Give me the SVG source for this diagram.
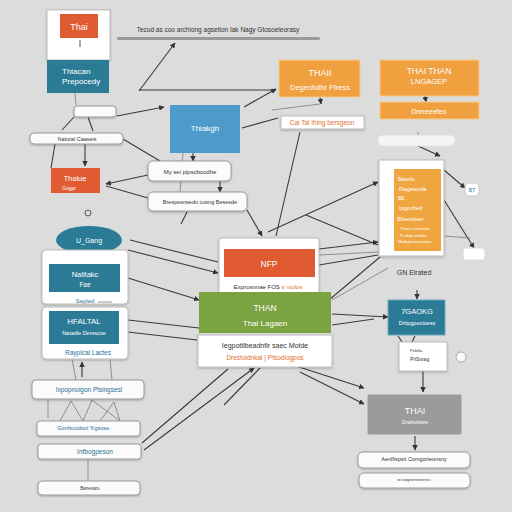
<svg xmlns="http://www.w3.org/2000/svg" width="512" height="512" viewBox="0 0 512 512">
<defs>
<marker id="ah" viewBox="0 0 10 10" refX="9" refY="5" markerWidth="5" markerHeight="5" orient="auto"><path d="M0,0 L10,5 L0,10 z" fill="#333"/></marker>
<filter id="sh" x="-10%" y="-10%" width="120%" height="130%"><feDropShadow dx="0" dy="1" stdDeviation="1" flood-color="#000" flood-opacity="0.25"/></filter>
</defs>
<style>
text{font-family:"Liberation Sans",Arial,sans-serif;}
.w{fill:#ffffff;stroke:#bdbdbd;stroke-width:1;filter:url(#sh);}
.pill{fill:#fbfbfb;stroke:#9a9a9a;stroke-width:1;filter:url(#sh);}
.lt{fill:#ffffff;text-anchor:middle;}
.dk{fill:#333;text-anchor:middle;}
.bl{fill:#2b6f95;text-anchor:middle;}
.or{fill:#e0702a;text-anchor:middle;}
.c line{stroke:#3a3a3a;stroke-width:1.1;fill:none;}
.c .th{stroke:#7a7a7a;stroke-width:0.8;}
</style>
<rect width="512" height="512" fill="#dcdcdc"/>

<g class="c">
<line x1="139" y1="91" x2="175" y2="43" marker-end="url(#ah)"/>
<line x1="139" y1="90" x2="276" y2="90"/>
<line x1="117" y1="116" x2="164" y2="107" marker-end="url(#ah)"/>
<line x1="244" y1="107" x2="276" y2="89" marker-end="url(#ah)"/>
<line x1="242" y1="128" x2="278" y2="118"/>
<line x1="75" y1="93" x2="76" y2="105" class="th"/>
<line x1="74" y1="117" x2="62" y2="130"/>
<line x1="88" y1="117" x2="93" y2="131"/>
<line x1="123" y1="139" x2="160" y2="161"/>
<line x1="85" y1="144" x2="85" y2="166" marker-end="url(#ah)"/>
<line x1="55" y1="144" x2="51" y2="168"/>
<line x1="148" y1="175" x2="106" y2="184" marker-end="url(#ah)"/>
<line x1="148" y1="198" x2="106" y2="186"/>
<line x1="193" y1="153" x2="193" y2="161" marker-end="url(#ah)"/>
<line x1="220" y1="181" x2="220" y2="192" marker-end="url(#ah)"/>
<line x1="183" y1="153" x2="180" y2="192" class="th"/>
<line x1="247" y1="210" x2="262" y2="236" marker-end="url(#ah)"/>
<line x1="187" y1="212" x2="181" y2="224"/>
<line x1="300" y1="132" x2="276" y2="236"/>
<line x1="268" y1="232" x2="378" y2="182" marker-end="url(#ah)"/>
<line x1="306" y1="215" x2="378" y2="245"/>
<line x1="319" y1="249" x2="378" y2="242" marker-end="url(#ah)"/>
<line x1="319" y1="265" x2="378" y2="255"/>
<line x1="329" y1="300" x2="380" y2="257"/>
<line x1="418" y1="146" x2="440" y2="156" marker-end="url(#ah)"/>
<line x1="418" y1="132" x2="420" y2="146" class="th"/>
<line x1="444" y1="170" x2="465" y2="188" marker-end="url(#ah)"/>
<line x1="444" y1="200" x2="474" y2="248" marker-end="url(#ah)"/>
<line x1="444" y1="236" x2="470" y2="238" class="th"/>
<line x1="425" y1="96" x2="426" y2="102" marker-end="url(#ah)"/>
<line x1="320" y1="97" x2="321" y2="104" marker-end="url(#ah)"/>
<line x1="272" y1="110" x2="320" y2="104" class="th"/>
<line x1="128" y1="250" x2="218" y2="273" marker-end="url(#ah)"/>
<line x1="130" y1="240" x2="218" y2="262"/>
<line x1="128" y1="278" x2="199" y2="300" marker-end="url(#ah)"/>
<line x1="128" y1="320" x2="199" y2="328"/>
<line x1="128" y1="332" x2="197" y2="340"/>
<line x1="319" y1="255" x2="380" y2="252" class="th"/>
<line x1="332" y1="314" x2="388" y2="317" marker-end="url(#ah)"/>
<line x1="332" y1="325" x2="374" y2="319"/>
<line x1="332" y1="300" x2="388" y2="268" class="th"/>
<line x1="417" y1="290" x2="417" y2="299" marker-end="url(#ah)"/>
<line x1="398" y1="336" x2="402" y2="342"/>
<line x1="415" y1="336" x2="412" y2="342"/>
<line x1="423" y1="371" x2="423" y2="392" marker-end="url(#ah)"/>
<line x1="415" y1="436" x2="415" y2="450" marker-end="url(#ah)"/>
<line x1="296" y1="366" x2="364" y2="388" marker-end="url(#ah)"/>
<line x1="300" y1="372" x2="364" y2="404" marker-end="url(#ah)"/>
<line x1="142" y1="443" x2="228" y2="369"/>
<line x1="144" y1="450" x2="254" y2="368" marker-end="url(#ah)"/>
<line x1="260" y1="368" x2="224" y2="405"/>
<line x1="82" y1="377" x2="82" y2="362" marker-end="url(#ah)"/>
<line x1="76" y1="380" x2="72" y2="359" class="th"/>
<line x1="112" y1="380" x2="110" y2="359" class="th"/>
<line x1="71" y1="401" x2="83" y2="421" class="th"/>
<line x1="92" y1="400" x2="83" y2="421" class="th"/>
<line x1="92" y1="400" x2="120" y2="421" class="th"/>
<line x1="114" y1="402" x2="100" y2="421" class="th"/>
<line x1="114" y1="402" x2="120" y2="421" class="th"/>
<line x1="71" y1="401" x2="60" y2="421" class="th"/>
<line x1="48" y1="400" x2="48" y2="418" class="th"/>
<line x1="88" y1="459" x2="88" y2="480" class="th"/>
</g>

<g id="title">
<text x="218" y="32" font-size="6.5" fill="#333" text-anchor="middle">Tecud as coo archiong agsetion Iak Nagy Gtosoeleorasy</text>
<rect x="117" y="37" width="203" height="3" rx="1.5" fill="#9a9a9a"/>
</g>

<g id="n-thai">
<rect x="47" y="10" width="63" height="50" class="w" fill="#f3f0ea"/>
<rect x="60" y="14" width="38" height="24" fill="#e05a32"/>
<text x="79" y="30" font-size="9" class="lt">Thai</text>
<line x1="80" y1="40" x2="80" y2="47" stroke="#555" stroke-width="1"/>
</g>

<g id="n-thiacan">
<rect x="47" y="60" width="62" height="33" fill="#2b7b97"/>
<text x="62" y="74" font-size="8" fill="#fff">Thiacan</text>
<text x="62" y="84" font-size="8" fill="#fff">Prepocedy</text>
</g>

<g id="n-smallpill">
<rect x="74" y="106" width="42" height="11" rx="3" class="pill"/>
</g>

<g id="n-natural">
<rect x="30" y="133" width="93" height="11" rx="4" class="pill"/>
<text x="77" y="141" font-size="5.5" class="dk">Natural Caaseis</text>
</g>

<g id="n-thiakgh">
<rect x="170" y="105" width="70" height="48" fill="#4d9bcb"/>
<text x="205" y="131" font-size="8" class="lt">Thiakgh</text>
</g>

<g id="n-thaii">
<rect x="279" y="60" width="81" height="37" fill="#f0a03f" stroke="#f7c98a" stroke-width="1"/>
<text x="320" y="76" font-size="9" class="lt">THAII</text>
<text x="320" y="90" font-size="7.5" class="lt">Degenfothr Ffress</text>
</g>

<g id="n-thaithan">
<rect x="380" y="60" width="99" height="36" fill="#f0a03f" stroke="#f7c98a" stroke-width="1"/>
<text x="429" y="74" font-size="8.5" class="lt">THAI THAN</text>
<text x="429" y="84" font-size="7.5" class="lt">LNGAGEP</text>
</g>

<g id="n-dreree">
<rect x="380" y="102" width="99" height="17" fill="#f0a03f" stroke="#f7c98a" stroke-width="1"/>
<text x="429" y="114" font-size="7" class="lt">Drereeefen</text>
</g>

<g id="n-cailabel">
<rect x="281" y="116" width="83" height="13" class="w"/>
<text x="322" y="125" font-size="6.5" class="or">Cai Tal Ihing bersgeon</text>
</g>

<g id="n-pill-right">
<rect x="378" y="135" width="77" height="11" rx="5" fill="#f5f5f5" stroke="#e0e0e0"/>
</g>

<g id="n-orthai">
<rect x="148" y="161" width="83" height="20" rx="5" class="pill"/>
<text x="190" y="174" font-size="6" class="dk">My sei pipscbcodhe</text>
</g>

<g id="n-bresp">
<rect x="148" y="192" width="99" height="19" rx="5" class="pill"/>
<text x="200" y="204" font-size="5.5" class="dk">Brespesnsedo cusng Besesde</text>
</g>

<g id="n-thalue">
<rect x="51" y="168" width="49" height="25" fill="#e05a32"/>
<text x="75" y="181" font-size="7.5" class="lt">Thalue</text>
<text x="62" y="190" font-size="5" fill="#fff">Gogpr</text>
</g>

<circle cx="88" cy="213" r="3" fill="none" stroke="#555" stroke-width="1"/>

<g id="n-ugang">
<ellipse cx="89" cy="240" rx="33" ry="14" fill="#2b7b97"/>
<text x="89" y="243" font-size="7" class="lt">U_Gang</text>
</g>

<g id="n-bigcard">
<rect x="42" y="250" width="86" height="54" rx="4" class="w"/>
<rect x="42" y="307" width="86" height="52" rx="4" class="w"/>
<rect x="49" y="264" width="71" height="28" fill="#2b7b97"/>
<text x="85" y="277" font-size="7.5" class="lt">Nalitakc</text>
<text x="85" y="287" font-size="6.5" class="lt">Fae</text>
<text x="85" y="303" font-size="6" class="bl">Sepled</text>
<line x1="98" y1="302" x2="112" y2="302" stroke="#777" stroke-width="0.8"/>
<rect x="49" y="311" width="70" height="33" fill="#2b7b97"/>
<text x="84" y="324" font-size="8" class="lt">HFALTAL</text>
<text x="84" y="335" font-size="5.5" class="lt">Natadle Dersscoe</text>
<text x="88" y="355" font-size="6.5" class="bl">Rayplcal Lactes</text>
</g>

<g id="n-nfp">
<rect x="219" y="238" width="100" height="57" rx="3" class="w"/>
<rect x="224" y="249" width="91" height="28" fill="#e05a32"/>
<text x="269" y="267" font-size="8.5" class="lt">NFP</text>
<text x="268" y="289" font-size="6" class="dk">Exprosnnae FOS <tspan fill="#e0702a">s molos</tspan></text>
</g>

<g id="n-than">
<rect x="199" y="292" width="132" height="41" fill="#7ba33f"/>
<text x="265" y="311" font-size="8.5" class="lt">THAN</text>
<text x="265" y="326" font-size="8" class="lt">Thal Lagaen</text>
</g>

<g id="n-motde">
<rect x="198" y="335" width="134" height="32" class="w"/>
<text x="265" y="348" font-size="7" class="dk">Iegpottlbeadnfir saec Motde</text>
<text x="265" y="360" font-size="6.5" class="or">Drestoidnkal | Pfsodiogpos</text>
</g>

<g id="n-bigright">
<rect x="379" y="160" width="65" height="96" class="w"/>
<rect x="394" y="169" width="47" height="82" fill="#f0a640"/>
<text x="398" y="181" font-size="5" fill="#fff">Basetis</text>
<text x="399" y="191" font-size="6" fill="#fff">Ragesorla</text>
<text x="398" y="200" font-size="5" fill="#fff">BE</text>
<text x="399" y="210" font-size="6" fill="#fff">Ipgorhetl</text>
<text x="397" y="221" font-size="6" fill="#fff">Bfeevisen</text>
<text x="400" y="230" font-size="4" fill="#fff">Thracs ssoonion</text>
<text x="400" y="237" font-size="4" fill="#fff">Pcdiloe sroilles</text>
<text x="398" y="243" font-size="4" fill="#fff">Madapessocooees</text>
<text x="414" y="275" font-size="7" class="dk">GN Elrated</text>
</g>

<g id="n-badge1">
<rect x="465" y="183" width="14" height="13" rx="4" fill="#fff" stroke="#ccc"/>
<text x="472" y="192" font-size="5" fill="#2b6f95" text-anchor="middle">BT</text>
</g>

<g id="n-badge2">
<rect x="463" y="248" width="22" height="12" rx="3" fill="#fff" stroke="#ddd"/>
</g>

<g id="n-gaokg">
<rect x="388" y="300" width="57" height="35" fill="#2b7b97" stroke="#6aa7bf" stroke-width="1"/>
<text x="417" y="314" font-size="7.5" class="lt">7GAOKG</text>
<text x="417" y="325" font-size="5.5" class="lt">Drtipgpectoess</text>
</g>

<g id="n-prls">
<rect x="399" y="342" width="48" height="29" class="w"/>
<text x="410" y="352" font-size="4" fill="#333">Pnlotla</text>
<text x="410" y="361" font-size="5" fill="#333">PrlSsrag</text>
</g>

<circle cx="461" cy="357" r="5" fill="#fafafa" stroke="#999" stroke-width="0.8"/>

<g id="n-grey">
<rect x="367" y="394" width="95" height="41" rx="2" fill="#9b9b9b" stroke="#ddd"/>
<text x="415" y="414" font-size="9" class="lt">THAI</text>
<text x="415" y="424" font-size="4.5" class="lt">Dnafeotnane</text>
</g>

<g id="n-aen">
<rect x="358" y="452" width="112" height="16" rx="5" class="pill"/>
<text x="414" y="461" font-size="5.5" class="dk">Aenlfispsit Comgorteonsny</text>
</g>

<g id="n-bottomright">
<rect x="359" y="473" width="111" height="15" rx="5" class="pill" fill="#f0ede6"/>
<text x="414" y="481" font-size="3.5" class="dk">vo coogeorrosorerecc</text>
</g>

<g id="n-ixpo">
<rect x="32" y="380" width="112" height="19" rx="4" class="pill"/>
<text x="89" y="392" font-size="6.5" class="bl">Ixpopnoigon Plsingsesl</text>
</g>

<g id="n-gonf">
<rect x="37" y="421" width="103" height="15" rx="3" class="pill"/>
<text x="84" y="430" font-size="5.5" class="bl">Gonfscodsot 'Kgsose.</text>
</g>

<g id="n-infbo">
<rect x="38" y="444" width="103" height="15" rx="3" class="pill"/>
<text x="95" y="454" font-size="6.5" class="bl">Infbogpeson</text>
</g>

<g id="n-banev">
<rect x="38" y="481" width="102" height="14" rx="4" class="pill" fill="#f0ede6"/>
<text x="90" y="490" font-size="4.5" class="dk">Banevaro</text>
</g>
</svg>
